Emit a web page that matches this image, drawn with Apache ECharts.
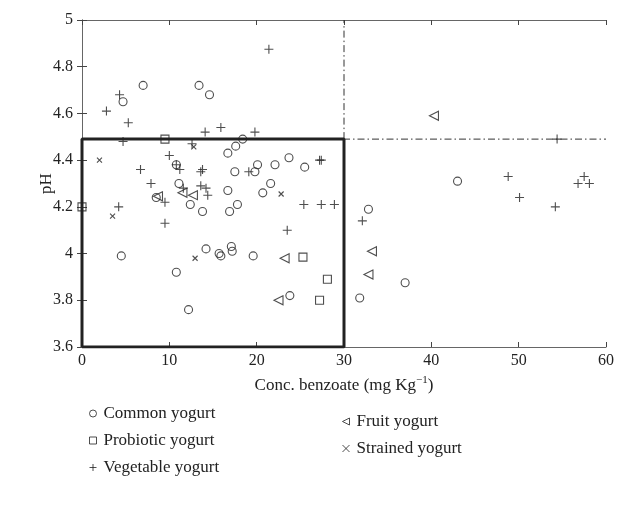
<!DOCTYPE html>
<html>
<head>
<meta charset="utf-8">
<script src="https://cdn.jsdelivr.net/npm/echarts@6/dist/echarts.min.js"></script>
<style>
  html, body { margin: 0; padding: 0; background: #fff; }
  #chart { width: 617px; height: 506px; }
</style>
</head>
<body>
<div id="chart"></div>
<script>
// pH vs benzoate concentration, per yogurt type
const commonYogurt = [
  [7.0, 4.72], [13.4, 4.72], [14.6, 4.68], [4.7, 4.65], [10.8, 4.38], [11.1, 4.30],
  [12.4, 4.21], [13.8, 4.18], [8.5, 4.24], [4.5, 3.99], [14.2, 4.02], [10.8, 3.92],
  [12.2, 3.76], [18.4, 4.49], [17.6, 4.46], [16.7, 4.43], [23.7, 4.41], [22.1, 4.38],
  [20.1, 4.38], [25.5, 4.37], [17.5, 4.35], [19.8, 4.35], [21.6, 4.30], [16.7, 4.27],
  [20.7, 4.26], [17.8, 4.21], [16.9, 4.18], [15.7, 4.00], [15.9, 3.99], [17.1, 4.03],
  [17.2, 4.01], [19.6, 3.99], [23.8, 3.82], [43.0, 4.31], [32.8, 4.19], [37.0, 3.875],
  [31.8, 3.81]
];
const probioticYogurt = [[9.5, 4.49], [0, 4.2], [25.3, 3.985], [28.1, 3.89], [27.2, 3.80]];
const vegetableYogurt = [
  [21.4, 4.875], [4.3, 4.68], [2.8, 4.61], [5.3, 4.56], [14.1, 4.52], [4.7, 4.48],
  [12.6, 4.47], [10.0, 4.42], [10.8, 4.38], [11.2, 4.36], [6.7, 4.36], [13.8, 4.36],
  [13.6, 4.35], [7.9, 4.30], [11.6, 4.28], [13.6, 4.29], [14.2, 4.28], [14.4, 4.25],
  [9.5, 4.22], [4.2, 4.20], [9.5, 4.13], [15.9, 4.54], [19.8, 4.52], [27.4, 4.40],
  [27.2, 4.40], [19.1, 4.35], [25.4, 4.21], [27.4, 4.21], [28.9, 4.21], [23.5, 4.10],
  [54.4, 4.49], [48.8, 4.33], [50.1, 4.24], [54.2, 4.20], [56.8, 4.30], [57.5, 4.33],
  [58.1, 4.30], [32.1, 4.14]
];
const fruitYogurt = [[11.5, 4.26], [12.7, 4.25], [8.7, 4.245], [23.2, 3.98], [22.5, 3.80],
  [33.2, 4.01], [32.8, 3.91], [40.3, 4.59]];
const strainedYogurt = [[2.0, 4.40], [3.5, 4.16], [12.8, 4.457], [12.95, 3.98], [22.8, 4.255]];

// limits: 30 mg/kg and pH 4.5
const limitX = 30;
const limitY = 4.49;
const xTicks = [0, 10, 20, 30, 40, 50, 60];
const yTicks = [3.6, 3.8, 4, 4.2, 4.4, 4.6, 4.8, 5];

const ink = '#222';
const serif = '"Liberation Serif", "DejaVu Serif", serif';
const plusPath = 'path://M0,5L10,5M5,0L5,10';
const crossPath = 'path://M0,0L10,10M10,0L0,10';
const leftTriPath = 'path://M10,0L0,5L10,10Z';

function scatter(name, data, symbol, size) {
  return {
    name: name,
    type: 'scatter',
    data: data,
    symbol: symbol,
    symbolSize: size,
    itemStyle: { color: 'rgba(0,0,0,0)', borderColor: ink, borderWidth: 1.1 },
    z: 5
  };
}

function legendItem(name, icon) {
  return { name: name, icon: icon, itemStyle: { color: 'rgba(0,0,0,0)', borderColor: ink, borderWidth: 1 } };
}

const chart = echarts.init(document.getElementById('chart'), null, { renderer: 'canvas' });

const axisCommon = {
  min: 0, max: 60, interval: 10,
  axisLine: { lineStyle: { color: '#666', width: 1 } },
  axisTick: { inside: true, length: 5, lineStyle: { color: '#444' } },
  splitLine: { show: false }
};

const legendText = { fontFamily: serif, fontSize: 17, color: ink, lineHeight: 19, padding: [0, 0, 0, 2] };

chart.setOption({
  animation: false,
  backgroundColor: '#fff',
  grid: { left: 82, right: 10, top: 20, bottom: 159 },
  xAxis: [
    Object.assign({}, axisCommon, {
      type: 'value',
      position: 'bottom',
      min: xTicks[0], max: xTicks[xTicks.length - 1],
      name: 'Conc. benzoate (mg Kg{sup|−1})',
      nameLocation: 'middle',
      nameGap: 28,
      nameTextStyle: {
        fontFamily: serif, fontSize: 17, color: ink,
        rich: { sup: { fontFamily: serif, fontSize: 11, color: ink, verticalAlign: 'top', padding: [0, 0, 10, 0] } }
      },
      axisLabel: { fontFamily: serif, fontSize: 16, color: ink, margin: 6 }
    }),
    Object.assign({}, axisCommon, {
      type: 'value', position: 'top',
      axisLabel: { show: false }
    })
  ],
  yAxis: [
    {
      type: 'value',
      position: 'left',
      min: yTicks[0], max: yTicks[yTicks.length - 1], interval: 0.2,
      name: 'pH',
      nameLocation: 'middle',
      nameGap: 27,
      nameMoveOverlap: false,
      nameRotate: 90,
      nameTextStyle: { fontFamily: serif, fontSize: 17, color: ink },
      axisLine: { lineStyle: { color: '#666', width: 1 } },
      axisTick: { inside: true, length: 5, lineStyle: { color: '#444' } },
      axisLabel: { fontFamily: serif, fontSize: 16, color: ink, margin: 9 },
      splitLine: { show: false }
    },
    {
      type: 'value',
      position: 'right',
      min: yTicks[0], max: yTicks[yTicks.length - 1], interval: 0.2,
      axisLine: { show: true, lineStyle: { color: '#666', width: 1 } },
      axisTick: { inside: true, length: 5, lineStyle: { color: '#444' } },
      axisLabel: { show: false },
      splitLine: { show: false }
    }
  ],
  legend: [
    {
      data: [
        legendItem('Common yogurt', 'circle'),
        legendItem('Probiotic yogurt', 'rect'),
        legendItem('Vegetable yogurt', plusPath)
      ],
      orient: 'vertical',
      left: 84, top: 399,
      itemWidth: 7, itemHeight: 7, itemGap: 8,
      textStyle: legendText
    },
    {
      data: [
        legendItem('Fruit yogurt', leftTriPath),
        { name: 'Strained yogurt', icon: crossPath,
          itemStyle: { color: 'rgba(0,0,0,0)', borderColor: ink, borderWidth: 1 } }
      ],
      orient: 'vertical',
      left: 337, top: 407,
      itemWidth: 7, itemHeight: 7, itemGap: 8,
      textStyle: legendText
    }
  ],
  series: [
    // limit lines
    {
      type: 'line', silent: true, symbol: 'none', z: 2,
      data: [[limitX, limitY], [limitX, yTicks[yTicks.length - 1]]],
      lineStyle: { color: '#333', width: 1, type: [7, 3, 1.5, 3] }
    },
    {
      type: 'line', silent: true, symbol: 'none', z: 2,
      data: [[xTicks[0], limitY], [xTicks[xTicks.length - 1], limitY]],
      lineStyle: { color: '#333', width: 1, type: [7, 3, 1.5, 3] }
    },
    {
      type: 'line', silent: true, symbol: 'none', z: 3,
      data: [[xTicks[0], yTicks[0]], [xTicks[0], limitY], [limitX, limitY], [limitX, yTicks[0]], [xTicks[0], yTicks[0]]],
      lineStyle: { color: '#222', width: 3 }
    },
    scatter('Common yogurt', commonYogurt, 'circle', 8),
    scatter('Probiotic yogurt', probioticYogurt, 'rect', 8),
    scatter('Vegetable yogurt', vegetableYogurt, plusPath, 9),
    scatter('Fruit yogurt', fruitYogurt, leftTriPath, 9),
    scatter('Strained yogurt', strainedYogurt, crossPath, 5)
  ]
});
</script>
</body>
</html>
